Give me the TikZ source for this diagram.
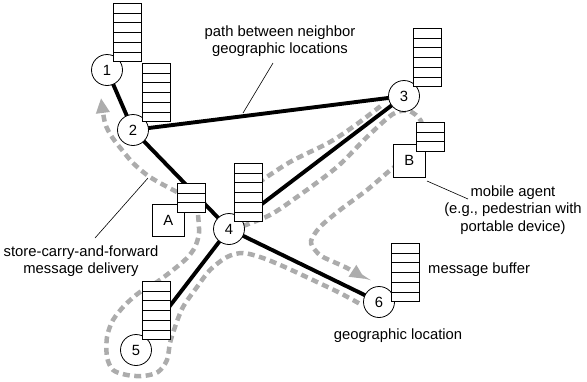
\documentclass[tikz,border=0pt]{standalone}
\usepackage{fontspec}
\setmainfont{Liberation Sans}
\usetikzlibrary{arrows.meta,backgrounds}
\definecolor{flowgray}{RGB}{172,172,172}
\begin{document}
\begin{tikzpicture}[x=1pt,y=-1pt,
 every node/.style={font=\fontsize{14.8}{17.5}\selectfont},
 circ/.style={circle, draw, fill=white, line width=0.8pt, minimum size=31pt, inner sep=0pt},
 agent/.style={rectangle, draw, fill=white, line width=0.8pt, minimum width=32pt, minimum height=32pt, inner sep=0pt, anchor=north west},
 buf/.style={rectangle, draw, fill=white, line width=0.8pt, minimum width=28pt, minimum height=#1, inner sep=0pt, anchor=north west,
   path picture={\foreach \k in {1,...,5}{\draw[line width=0.8pt] ([yshift=-\k*9.7pt]path picture bounding box.north west) -- ([yshift=-\k*9.7pt]path picture bounding box.north east);}}},
 road/.style={line width=3.9pt},
 carry/.style={draw=flowgray, line width=4.5pt, dash pattern=on 7pt off 4.5pt},
 carrytip/.style={-{Triangle[length=15pt,width=13pt]}},
 leader/.style={line width=0.6pt},
 caption/.style={align=center, inner sep=0pt}
]
\useasboundingbox (0,0) rectangle (587,381);

% geographic locations
\node[circ] (n1) at (107,70) {1};
\node[circ] (n2) at (133,130) {2};
\node[circ] (n3) at (404,96) {3};
\node[circ] (n4) at (229,229) {4};
\node[circ] (n5) at (136,350) {5};
\node[circ] (n6) at (379,302) {6};

% mobile agents
\node[agent] (A) at (152,204) {A};
\node[agent, minimum height=33pt] (B) at (393,144) {B};

% message buffers
\node[buf=58.2pt] (b1) at (113,3) {};
\node[buf=58.2pt] (b2) at (142,63) {};
\node[buf=58.2pt] (b3) at (413,28) {};
\node[buf=58.2pt] (b4) at (234,163) {};
\node[buf=58.2pt] (b5) at (142,281) {};
\node[buf=58.2pt] (b6) at (391,243) {};
\node[buf=29.1pt] (bA) at (177,183) {};
\node[buf=29.1pt] (bB) at (416,122) {};

% labels
\node[caption] (lpath) at (280,41) {path between neighbor\\geographic locations};
\node[caption] (lstore) at (81,261) {store-carry-and-forward\\message delivery};
\node[caption] (lagent) at (513,210) {mobile agent\\(e.g., pedestrian with\\portable device)};
\node[caption, anchor=west] (lbuf) at (428,270) {message buffer};
\node[caption] (lgeo) at (398,336) {geographic location};

\coordinate (pa) at (273,63);
\coordinate (pb) at (243,113);
\coordinate (sa) at (95,238);
\coordinate (sb) at (148,178);
\coordinate (ma) at (468,199);
\coordinate (mb) at (427,181);

\begin{scope}[on background layer]
% carried messages
\draw[carry, carrytip] plot[smooth] coordinates {(177,192) (160,183) (147,175) (133,163) (122,150) (112,137) (105,123) (101,98)};
\draw[carry] plot[smooth] coordinates {(258,183) (290,162) (330,142) (357,124) (382,105)};
\draw[carry, carrytip] plot[smooth] coordinates {(243,226) (270,215) (297,197) (337,167) (367,137) (393,114) (409,111) (421,121) (423,140) (411,157) (393,168) (367,190) (340,210) (320,227) (311,241) (315,250) (323,257) (347,268) (365,279)};
\draw[carry] plot[smooth] coordinates {(198,215) (199,233) (195,247) (187,258) (173,270) (157,282) (140,292) (125,305) (113,320) (107,337) (107,357) (113,370) (127,375) (143,376) (158,372) (167,360) (170,343) (175,327) (183,307) (197,287) (210,270) (227,257) (243,253) (263,258) (287,268) (317,282) (340,293) (362,305)};
% paths
\draw[road] (n1.center) -- (n2.center);
\draw[road] (n2.center) -- (n3.center);
\draw[road] (n2.center) -- (n4.center);
\draw[road] (n3.center) -- (n4.center);
\draw[road] (n4.center) -- (n5.center);
\draw[road] (n4.center) -- (n6.center);
% leaders
\draw[leader] (pa) -- (pb);
\draw[leader] (sa) -- (sb);
\draw[leader] (ma) -- (mb);
\end{scope}
\end{tikzpicture}
\end{document}
